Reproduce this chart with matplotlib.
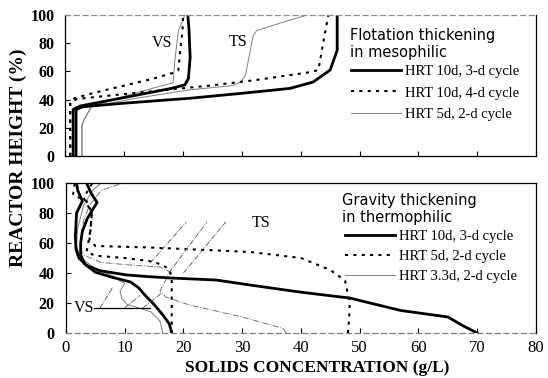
import matplotlib
matplotlib.use('Agg')
import matplotlib.pyplot as plt
from matplotlib.lines import Line2D

""" DATA (solids concentration in g/L, reactor height in %) """

# flotation thickening, mesophilic
flot_hrt10_3d_vs_x = [1.3, 1.3, 2.5, 10, 18, 20.3, 20.9, 21.2, 21.0, 20.8]
flot_hrt10_3d_vs_y = [0, 33, 35.5, 41.5, 48, 50.5, 55, 70, 90, 100]
flot_hrt10_3d_ts_x = [1.8, 1.8, 3, 10, 21.2, 30, 38.2, 42.1, 45, 46.2, 46.2, 46.2]
flot_hrt10_3d_ts_y = [0, 33, 35, 37.5, 41, 44.5, 48, 52.5, 61, 75, 96, 100]
flot_hrt10_4d_vs_x = [0.8, 0.8, 1.5, 5, 10, 15, 18.3, 19.2, 19.5, 19.8, 20, 19.9]
flot_hrt10_4d_vs_y = [0, 38, 41, 45, 50, 55, 59, 61, 75, 85, 95, 100]
flot_hrt10_4d_ts_x = [0.8, 0.8, 2, 10, 24.6, 32.5, 41.6, 43, 43.6, 44.2, 44.7]
flot_hrt10_4d_ts_y = [0, 38, 40.5, 44, 50, 54, 59.5, 61, 75, 89, 100]
flot_hrt5_2d_vs_x = [2.8, 2.8, 3.2, 4.4, 8, 13, 18.3, 18.6, 19.2, 20.3]
flot_hrt5_2d_vs_y = [0, 22, 26, 35, 40, 46, 52, 68, 89, 100]
flot_hrt5_2d_ts_x = [2.8, 2.8, 3.2, 4.4, 12, 21.2, 28.5, 29.7, 30.6, 31.1, 31.9, 32.5, 37, 41]
flot_hrt5_2d_ts_y = [0, 22, 26, 35, 41, 47, 50, 52.5, 57, 68, 85, 89, 95, 100]

# gravity thickening, thermophilic
grav_hrt10_3d_vs_x = [18, 17.6, 16.5, 15, 13.5, 12.4, 11, 8, 5, 3.2, 2.5, 2.5, 2.8, 3.6, 4.5, 5.3, 4.3, 3.5]
grav_hrt10_3d_vs_y = [0, 6, 12, 19, 25, 30, 34, 37, 40.5, 46, 52, 60, 68, 76, 82, 87, 93, 100]
grav_hrt10_3d_ts_x = [70, 67.5, 65, 57, 48.3, 39.8, 31.3, 25.6, 17.7, 14.3, 10.3, 5.8, 3.5, 2.2, 1.7, 1.6, 1.8, 2.8, 2, 1.8]
grav_hrt10_3d_ts_y = [0, 5, 10.7, 15, 23.3, 27.3, 32, 35.3, 36.7, 37.5, 38.7, 41.5, 45, 50, 56, 65, 80, 88, 95, 100]
grav_hrt5_2d_vs_x = [18, 18, 18, 17.8, 17, 15, 10, 5, 3.5, 3.8, 4.2, 4.4, 3.5, 1.2, 1.5]
grav_hrt5_2d_vs_y = [0, 20, 35, 40, 44, 47.5, 50, 51.5, 54, 60, 70, 80, 88, 92, 100]
grav_hrt5_2d_ts_x = [48, 48.2, 48.3, 47.5, 45, 40, 31.3, 22.8, 14.3, 5, 4, 4.2, 4.4, 3, 4.5]
grav_hrt5_2d_ts_y = [0, 10, 20, 35, 42, 50, 54, 55.5, 57, 58, 62, 70, 80, 90, 100]
grav_hrt33_2d_vs_x = [16.5, 16, 14.5, 12.6, 10.4, 9.5, 9.2, 10, 8, 5, 2.5, 1.8, 2, 3, 4.5, 6]
grav_hrt33_2d_vs_y = [0, 8, 14, 16.5, 19, 23, 28, 33, 38, 43, 50, 58, 70, 85, 95, 100]
grav_hrt33_2d_ts_x = [37.5, 37, 30, 21, 17, 16, 16.8, 17.7, 16, 12, 6, 3, 2.4, 2.6, 3, 4, 6, 9.7]
grav_hrt33_2d_ts_y = [0, 3, 10.7, 18.7, 24, 28, 34, 40.6, 44, 45, 47, 52, 56, 65, 75, 85, 95, 100]

# leader lines for the TS / VS labels in the lower panel
ts_leaders = [((14.3, 20.5), (46.5, 74)), ((17.5, 24.0), (40, 74)), ((20.0, 27.2), (40, 74))]
vs_leaders = [((5.8, 8.0), (16.7, 30.7)), ((10.0, 12.6), (16.7, 25)), ((13.1, 16.3), (16.7, 26.7))]
vs_bar = ((4.8, 14.3), (16.7, 16.7))

flot_labels = ['HRT 10d, 3-d cycle', 'HRT 10d, 4-d cycle', 'HRT 5d, 2-d cycle']
grav_labels = ['HRT 10d, 3-d cycle', 'HRT 5d, 2-d cycle', 'HRT 3.3d, 2-d cycle']

""" STYLES """

serif = ['Liberation Serif', 'DejaVu Serif']
sans = ['DejaVu Sans']
thick = dict(color='black', lw=2.0, linestyle='-')
dotted = dict(color='black', lw=1.5, linestyle=(0, (1.5, 2.5)))
thin = dict(color='0.5', lw=0.7, linestyle='-')


def style_axes(ax, show_xlabels):
    ax.set_xlim(0, 80)
    ax.set_ylim(0, 100)
    ax.set_xticks(range(0, 81, 10))
    ax.set_yticks(range(0, 101, 20))
    ax.tick_params(direction='in', length=3.5, width=0.8, pad=8)
    for lab in ax.get_yticklabels():
        lab.set_fontfamily(serif)
        lab.set_fontweight('bold')
        lab.set_fontsize(11.5)
    if show_xlabels:
        for lab in ax.get_xticklabels():
            lab.set_fontfamily(serif)
            lab.set_fontsize(12)
        ax.tick_params(axis='x', pad=5)
    else:
        ax.set_xticklabels([])
    for s in ax.spines.values():
        s.set_linewidth(0.9)


def add_legend(ax, labels, styles, anchor, spacing):
    handles = [Line2D([], [], **st) for st in styles]
    ax.legend(handles, labels, loc='upper left', bbox_to_anchor=anchor, frameon=False,
              prop={'family': serif, 'size': 10.5}, handlelength=3.4, handletextpad=0.3,
              labelspacing=spacing, borderpad=0, borderaxespad=0)


fig = plt.figure(figsize=(5.48, 3.78), dpi=100)
ax0 = fig.add_axes([0.1195, 0.5873, 0.8585, 0.3727])
ax1 = fig.add_axes([0.1204, 0.119, 0.8576, 0.397])

# upper panel
ax0.plot(flot_hrt5_2d_vs_x, flot_hrt5_2d_vs_y, **thin)
ax0.plot(flot_hrt5_2d_ts_x, flot_hrt5_2d_ts_y, **thin)
ax0.plot(flot_hrt10_4d_vs_x, flot_hrt10_4d_vs_y, **dotted)
ax0.plot(flot_hrt10_4d_ts_x, flot_hrt10_4d_ts_y, **dotted)
ax0.plot(flot_hrt10_3d_vs_x, flot_hrt10_3d_vs_y, **thick)
ax0.plot(flot_hrt10_3d_ts_x, flot_hrt10_3d_ts_y, **thick)
ax0.text(16.4, 80, 'VS', family=serif, fontsize=11.5, ha='center', va='center')
ax0.text(29.3, 81, 'TS', family=serif, fontsize=11.5, ha='center', va='center')
ax0.text(0.605, 0.91, 'Flotation thickening\nin mesophilic', transform=ax0.transAxes,
         family=sans, fontsize=10.5, va='top', ha='left', linespacing=1.2)
add_legend(ax0, flot_labels, [thick, dotted, thin], (0.607, 0.645), 0.55)
style_axes(ax0, False)
ax0.spines['top'].set_color('0.55')
ax0.spines['top'].set_linestyle((0, (4, 3)))

# lower panel
ax1.plot(grav_hrt33_2d_vs_x, grav_hrt33_2d_vs_y, **thin)
ax1.plot(grav_hrt33_2d_ts_x, grav_hrt33_2d_ts_y, color='0.45', lw=0.7, linestyle='-.')
ax1.plot(grav_hrt5_2d_vs_x, grav_hrt5_2d_vs_y, **dotted)
ax1.plot(grav_hrt5_2d_ts_x, grav_hrt5_2d_ts_y, **dotted)
ax1.plot(grav_hrt10_3d_vs_x, grav_hrt10_3d_vs_y, **thick)
ax1.plot(grav_hrt10_3d_ts_x, grav_hrt10_3d_ts_y, **thick)
for xs, ys in ts_leaders + vs_leaders:
    ax1.plot(xs, ys, color='0.3', lw=0.6, linestyle='-.')
ax1.plot(vs_bar[0], vs_bar[1], color='black', lw=0.9)
ax1.text(33.2, 73, 'TS', family=serif, fontsize=11.5, ha='center', va='center')
ax1.text(3.1, 17, 'VS', family=serif, fontsize=11.5, ha='center', va='center')
ax1.text(0.587, 0.93, 'Gravity thickening\nin thermophilic', transform=ax1.transAxes,
         family=sans, fontsize=10.5, va='top', ha='left', linespacing=1.1)
add_legend(ax1, grav_labels, [thick, dotted, thin], (0.594, 0.69), 0.48)
style_axes(ax1, True)
ax1.spines['bottom'].set_color('0.5')
ax1.spines['bottom'].set_linestyle((0, (4, 3)))

fig.text(0.034, 0.583, 'REACTOR HEIGHT (%)', rotation=90, family=serif,
         fontweight='bold', fontsize=14, ha='center', va='center')
fig.text(0.578, 0.026, 'SOLIDS CONCENTRATION (g/L)', family=serif,
         fontweight='bold', fontsize=12.5, ha='center', va='center')

fig.savefig('out.png', dpi=100)
